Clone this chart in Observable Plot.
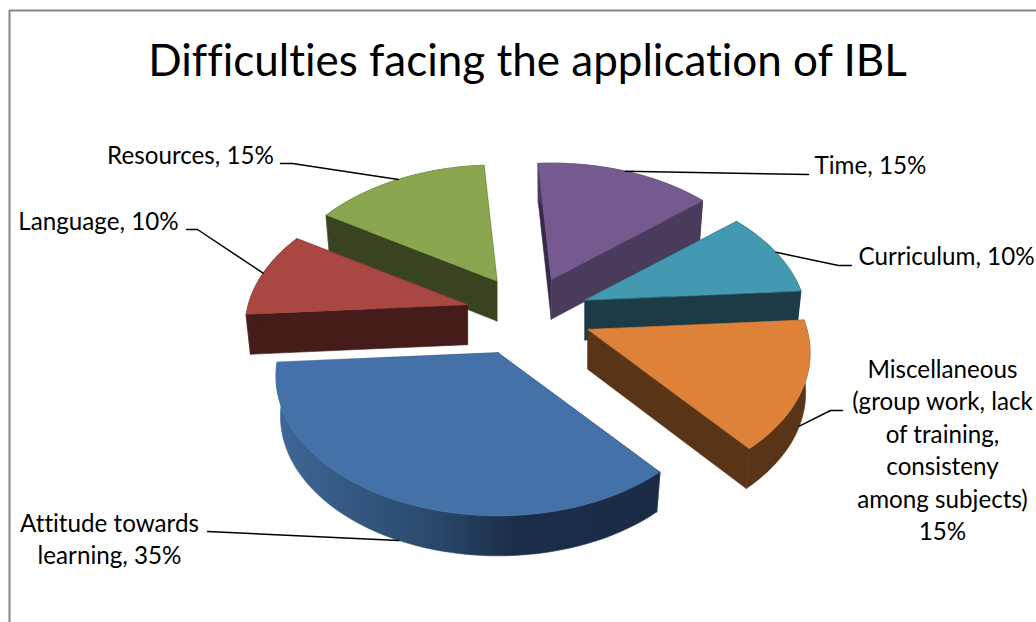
<!DOCTYPE html>
<html>
<head>
<meta charset="utf-8">
<script src="https://cdn.jsdelivr.net/npm/d3@7"></script>
<script src="https://cdn.jsdelivr.net/npm/@observablehq/plot@0.6"></script>
<style>
  html, body { margin: 0; padding: 0; background: #fff; overflow: hidden; }
  svg { display: block; font-variant-ligatures: none; }
</style>
</head>
<body>
<script>
// Survey shares, clockwise from the top of the pie
const categories = ["Time", "Curriculum", "Miscellaneous", "Attitude towards learning", "Language", "Resources"];
const shares = [15, 10, 15, 35, 10, 15];
const labels = [
  "Time, 15%",
  "Curriculum, 10%",
  "Miscellaneous\n(group work, lack\nof training,\nconsisteny\namong subjects)\n15%",
  "Attitude towards\nlearning, 35%",
  "Language, 10%",
  "Resources, 15%"
];
const topColors = ["#745a8f", "#4299b0", "#de8239", "#4472a8", "#a94743", "#8aa64e"];
const wallColors = ["#4a3a5c", "#1c3b46", "#593417", "url(#attitude-wall)", "#451c1a", "#39431f"];
const title = "Difficulties facing the application of IBL";

// Pie geometry
const W = 1036, H = 622;
const rotation = -4;              // degrees of the first slice's leading edge
const centre = [527, 311];
const radiusX = 219, radiusY = 135.6;
const perspective = 0.168;        // how much nearer points grow
const explode = 0.28;
const depth = 40;
const taper = 0.98;               // lower rim is slightly narrower

// Small corrections to each slice's pulled-out position
const apexShift = {
  "Time": [3, -2],
  "Curriculum": [4, 2],
  "Miscellaneous": [0, 2],
  "Attitude towards learning": [-1, 0],
  "Language": [-3, 2],
  "Resources": [-3, -2]
};

const toRad = (d) => d * Math.PI / 180;
function project(deg, r = 1) {
  const u = Math.sin(toRad(deg)), v = -Math.cos(toRad(deg));
  const s = 1 / (1 - perspective * v);
  return [radiusX * u * s * r, radiusY * v * s * r];
}

const total = d3.sum(shares);
let running = rotation;
const slices = categories.map((name, i) => {
  const start = running;
  const end = start + shares[i] / total * 360;
  running = end;
  const mid = (start + end) / 2;
  const [ex, ey] = project(mid, explode);
  const [nx, ny] = apexShift[name];
  return { i, name, start, end, mid, ax: centre[0] + ex + nx, ay: centre[1] + ey + ny };
});

const rimTop = (s, deg) => {
  const [dx, dy] = project(deg);
  return { x: s.ax + dx, y: s.ay + dy };
};
const rimBottom = (s, deg) => {
  const [dx, dy] = project(deg);
  return { x: s.ax + dx * taper, y: s.ay + dy + depth };
};
const arcAngles = (s) => d3.range(0, 61).map((k) => s.start + (s.end - s.start) * k / 60);

// A filled outline drawn through the position scales
const polygon = (points, fill) =>
  Plot.line(points, { x: "x", y: "y", fill, stroke: fill, strokeWidth: 0.6, curve: "linear-closed" });

function sliceMarks(s) {
  const wall = wallColors[s.i];
  const apexTop = { x: s.ax, y: s.ay };
  const apexBottom = { x: s.ax, y: s.ay + depth };
  const angles = arcAngles(s);
  const marks = [];
  // The time slice shows a darker sliver on its leading radial face
  const leadingFill = s.name === "Time" ? "#38294a" : wall;
  marks.push(polygon([rimTop(s, s.start), apexTop, apexBottom, rimBottom(s, s.start)], leadingFill));
  marks.push(polygon([apexTop, rimTop(s, s.end), rimBottom(s, s.end), apexBottom], wall));
  marks.push(polygon([...angles.map((a) => rimTop(s, a)), ...angles.slice().reverse().map((a) => rimBottom(s, a))], wall));
  marks.push(polygon([apexTop, ...angles.map((a) => rimTop(s, a))], topColors[s.i]));
  return marks;
}

// Painter's order, back to front
const paintOrder = ["Resources", "Time", "Language", "Curriculum", "Miscellaneous", "Attitude towards learning"];
const sliceLayers = paintOrder.flatMap((n) => sliceMarks(slices.find((s) => s.name === n)));

// Label placement: text centre and the elbow of its leader line
const labelPlacement = {
  "Time": { x: 870, y: 163, elbow: [[808, 174]] },
  "Curriculum": { x: 946, y: 254, elbow: [[851, 265], [838, 265]] },
  "Miscellaneous": { x: 942, y: 448, elbow: [[842, 410], [830, 410]] },
  "Attitude towards learning": { x: 109, y: 537, elbow: [[207, 531]] },
  "Language": { x: 98, y: 219, elbow: [[186, 229], [197, 229]] },
  "Resources": { x: 190, y: 153, elbow: [[280, 163], [292, 163]] }
};
const nearSide = new Set(["Miscellaneous", "Attitude towards learning"]);

const labelRows = slices.map((s) => ({ ...labelPlacement[s.name], text: labels[s.i] }));
const leaderMarks = slices.map((s) => {
  const end = nearSide.has(s.name) ? rimBottom(s, s.mid) : rimTop(s, s.mid);
  const pts = [...labelPlacement[s.name].elbow.map(([x, y]) => ({ x, y })), end];
  return Plot.line(pts, { x: "x", y: "y", stroke: "#000", strokeWidth: 1.5 });
});

// Shaded gradient for the curved wall of the largest slice
const gradientDefs = () => {
  const defs = d3.create("svg:defs");
  const g = defs.append("linearGradient").attr("id", "attitude-wall").attr("gradientUnits", "objectBoundingBox")
    .attr("x1", 0).attr("x2", 1).attr("y1", 0).attr("y2", 0);
  [[0, "#3f6898"], [0.2, "#345880"], [0.4, "#2a4a6d"], [0.62, "#1b2d49"], [1, "#1a2b45"]]
    .forEach(([o, c]) => g.append("stop").attr("offset", o).attr("stop-color", c));
  return defs.node();
};

const chart = Plot.plot({
  width: W,
  height: H,
  margin: 0,
  x: { domain: [0, W], range: [0, W], axis: null },
  y: { domain: [0, H], range: [0, H], axis: null },
  style: { background: "#fff", fontFamily: "Lato, 'Open Sans', sans-serif" },
  marks: [
    gradientDefs,
    Plot.ruleX([9], { y1: 10, y2: H, stroke: "#868686", strokeWidth: 2 }),
    Plot.ruleY([10], { x1: 9, x2: W, stroke: "#868686", strokeWidth: 2 }),
    ...sliceLayers,
    ...leaderMarks,
    Plot.text([title], { x: () => 527, y: () => 61, text: (d) => d, fontSize: 44, fill: "#000" }),
    Plot.text(labelRows, { x: "x", y: "y", text: "text", fontSize: 24.2, lineHeight: 1.34, fill: "#000" })
  ]
});
document.body.appendChild(chart);
</script>
</body>
</html>
